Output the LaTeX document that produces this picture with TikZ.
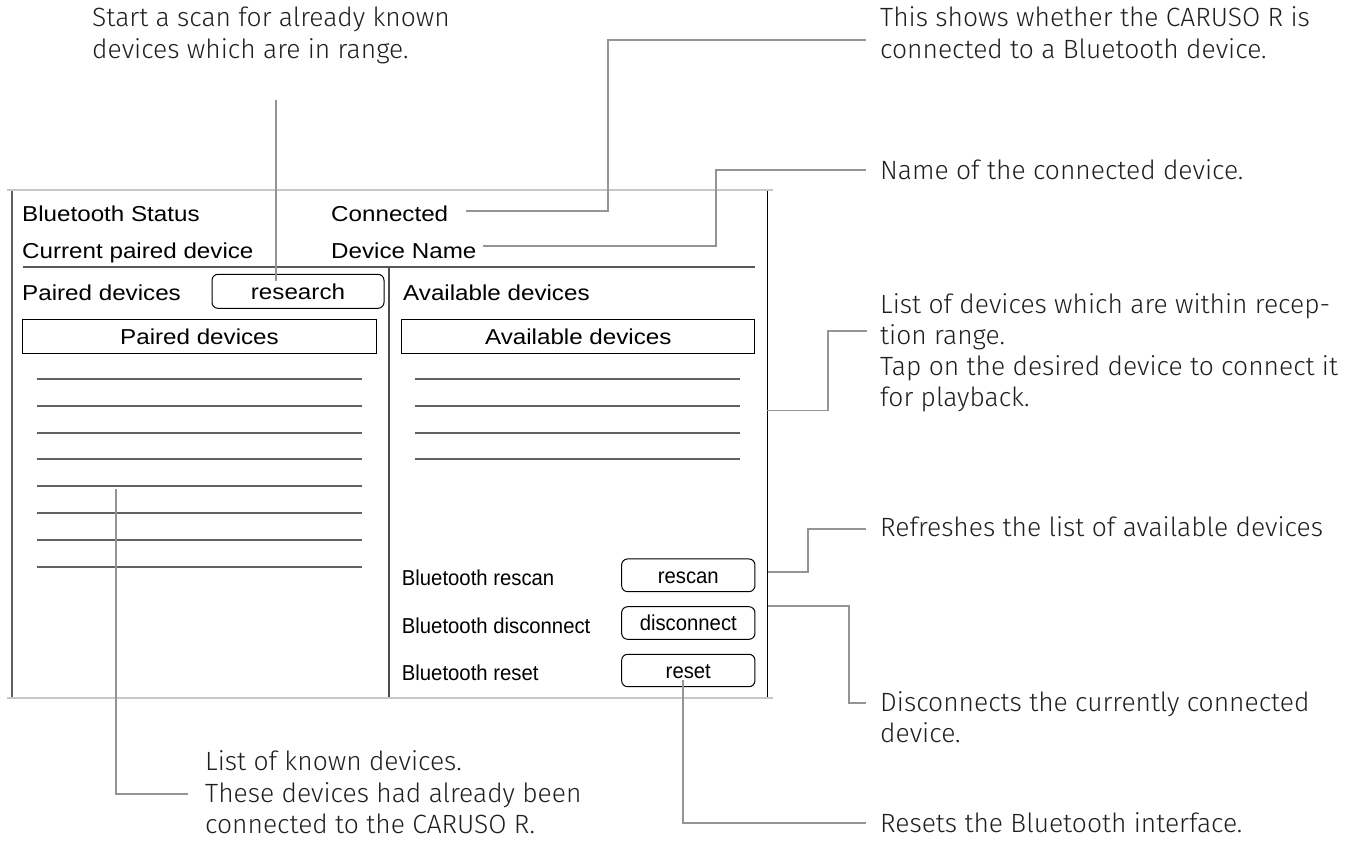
\documentclass[tikz,border=0pt]{standalone}
\usepackage{fontspec}
\setmainfont{Liberation Sans}
\newfontfamily\uiA[FakeStretch=1.12]{Liberation Sans}
\newfontfamily\uiB[FakeStretch=0.94]{Liberation Sans}
\newfontfamily\annfont{Fira Sans Light}
\begin{document}
\begin{tikzpicture}[x=1pt,y=-1pt,
  ui/.style={font=\uiA\fontsize{21.6}{24}\selectfont, inner sep=0pt, anchor=base west},
  uis/.style={font=\uiB\fontsize{21.6}{24}\selectfont, inner sep=0pt, anchor=base west},
  ann/.style={font=\annfont\fontsize{26.4}{31}\selectfont, text=black!88, inner sep=0pt, anchor=base west},
  boxA/.style={draw=black, line width=1pt, inner sep=0pt, text height=15.6pt, text depth=0pt, font=\uiA\fontsize{21.6}{24}\selectfont},
  btnA/.style={boxA, rounded corners=6pt},
  btnB/.style={btnA, font=\uiB\fontsize{21.6}{24}\selectfont},
  framegray/.style={draw=black!22, line width=2pt},
  frameside/.style={draw=black!62, line width=1.8pt},
  listline/.style={draw=black!62, line width=1.6pt},
  call/.style={draw=black!42, line width=1.3pt}
]
\useasboundingbox (0,0) rectangle (1351,861);

% ---------- frame ----------
\draw[framegray] (7,190) -- (773,190);
\draw[framegray] (7,698) -- (773,698);
\draw[frameside] (12,191) -- (12,697);
\draw[draw=black, line width=1.3pt] (767.5,191) -- (767.5,697);
\draw[draw=black!65, line width=1.8pt] (22.7,267.3) -- (755,267.3);
\draw[draw=black!70, line width=1.5pt] (389,267.3) -- (389,697);

% ---------- header texts ----------
\node[ui] (bts) at (22,222) {Bluetooth Status};
\node[ui] (conn) at (331,222) {Connected};
\node[ui] (cpd) at (22,258) {Current paired device};
\node[ui] (dname) at (331,258) {Device Name};
\node[ui] (pdl) at (22,300) {Paired devices};
\node[ui] (avl) at (403,300) {Available devices};

% ---------- boxes and buttons ----------
\node[btnA, minimum width=172pt, minimum height=34pt] (research) at (298,291.3) {research};
\node[boxA, minimum width=354pt, minimum height=34pt] (pdbox) at (199.5,336.3) {Paired devices};
\node[boxA, minimum width=353.3pt, minimum height=34pt] (avbox) at (578.3,336.3) {Available devices};

\node[uis] (lres) at (401.7,585) {Bluetooth rescan};
\node[uis] (ldis) at (401.7,633) {Bluetooth disconnect};
\node[uis] (lrst) at (401.7,680) {Bluetooth reset};
\node[btnB, minimum width=133.3pt, minimum height=32.7pt] (rescan) at (688.3,575.3) {rescan};
\node[btnB, minimum width=133.3pt, minimum height=32.6pt] (disc) at (688.3,623) {disconnect};
\node[btnB, minimum width=133.3pt, minimum height=32.4pt] (reset) at (688.3,670.5) {reset};

% ---------- list lines ----------
\foreach \yy in {379,406,433,459,486,513,540,567}
  \draw[listline] (36.7,\yy) -- (361.7,\yy);
\foreach \yy in {379,406,433,459}
  \draw[listline] (415,\yy) -- (740,\yy);

% ---------- annotations ----------
\node[ann] (a1) at (92,27) {Start a scan for already known};
\node[ann] (a1b) at (92,59) {devices which are in range.};
\node[ann] (a2) at (880,27) {This shows whether the CARUSO R is};
\node[ann] (a2b) at (880,59) {connected to a Bluetooth device.};
\node[ann] (a3) at (880,180) {Name of the connected device.};
\node[ann] (a4) at (880,313) {List of devices which are within recep-};
\node[ann] (a4b) at (880,344) {tion range.};
\node[ann] (a4c) at (880,375) {Tap on the desired device to connect it};
\node[ann] (a4d) at (880,406) {for playback.};
\node[ann] (a5) at (880,536) {Refreshes the list of available devices};
\node[ann] (a6) at (880,711) {Disconnects the currently connected};
\node[ann] (a6b) at (880,742) {device.};
\node[ann] (a7) at (880,832) {Resets the Bluetooth interface.};
\node[ann] (a8) at (205,770) {List of known devices.};
\node[ann] (a8b) at (205,802) {These devices had already been};
\node[ann] (a8c) at (205,833) {connected to the CARUSO R.};

% ---------- callout connectors ----------
\coordinate (c1s) at (276,100);
\coordinate (c1e) at (276,281);
\draw[call] (c1s) -- (c1e);

\coordinate (c2s) at (466,211);
\coordinate (c2e) at (866,40);
\draw[call] (c2s) -| (608,40) -- (c2e);

\coordinate (c3s) at (483,246);
\coordinate (c3e) at (866,170);
\draw[call] (c3s) -| (716,170) -- (c3e);

\coordinate (c4s) at (767,410.7);
\coordinate (c4e) at (866.7,331);
\draw[call] (c4s) -| (828,331) -- (c4e);

\coordinate (c5s) at (768,572);
\coordinate (c5e) at (866,529);
\draw[call] (c5s) -| (808,529) -- (c5e);

\coordinate (c6s) at (768,606);
\coordinate (c6e) at (866,703);
\draw[call] (c6s) -| (849,703) -- (c6e);

\coordinate (c7s) at (683,680);
\coordinate (c7e) at (866,823);
\draw[call] (c7s) |- (c7e);

\coordinate (c8s) at (116,489);
\coordinate (c8e) at (188,794);
\draw[call] (c8s) |- (c8e);
\end{tikzpicture}
\end{document}
